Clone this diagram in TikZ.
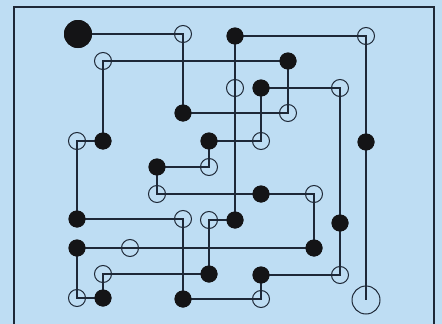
\documentclass[tikz,border=0pt]{standalone}
\definecolor{bgblue}{RGB}{190,221,243}
\definecolor{inkline}{RGB}{30,40,55}
\definecolor{dotblack}{RGB}{20,20,22}
\tikzset{
  fd/.style={circle,fill=dotblack,draw=none,inner sep=0pt,minimum size=17pt},
  od/.style={circle,draw=inkline,line width=1pt,fill=none,inner sep=0pt,minimum size=17pt},
  bigfd/.style={circle,fill=dotblack,draw=none,inner sep=0pt,minimum size=28pt},
  bigod/.style={circle,draw=inkline,line width=1pt,fill=none,inner sep=0pt,minimum size=28pt},
  wire/.style={draw=inkline,line width=1.9pt,line join=miter},
  framel/.style={draw=inkline,line width=1.8pt}
}
\begin{document}
\begin{tikzpicture}[x=1pt,y=-1pt]
\fill[bgblue] (0,0) rectangle (442,324);
\useasboundingbox (0,0) rectangle (442,324);
\coordinate (fbl) at (14,324);
\coordinate (ftl) at (14,7);
\coordinate (ftr) at (434,7);
\coordinate (fbr) at (434,324);
\draw[framel] (fbl) -- (ftl) -- (ftr) -- (fbr);
% nodes
\node[bigfd] (A) at (78,34) {};
\node[od] (B) at (183,34) {};
\node[fd] (C) at (183,113) {};
\node[od] (D) at (288,113) {};
\node[fd] (E) at (288,61) {};
\node[od] (F) at (103,61) {};
\node[fd] (G) at (103,141) {};
\node[od] (H) at (77,141) {};
\node[fd] (I) at (77,219) {};
\node[od] (J) at (183,219) {};
\node[fd] (K) at (183,299) {};
\node[od] (L) at (261,299) {};
\node[fd] (M) at (261,275) {};
\node[od] (N) at (340,275) {};
\node[fd] (O) at (340,223) {};
\node[od] (P) at (340,88) {};
\node[fd] (Q) at (261,88) {};
\node[od] (R) at (261,141) {};
\node[fd] (S) at (209,141) {};
\node[od] (T) at (209,167) {};
\node[fd] (U) at (157,167) {};
\node[od] (V) at (157,194) {};
\node[fd] (W) at (261,194) {};
\node[od] (X) at (314,194) {};
\node[fd] (Y) at (314,248) {};
\node[od] (Z) at (130,248) {};
\node[fd] (AA) at (77,248) {};
\node[od] (AB) at (77,298) {};
\node[fd] (AC) at (103,298) {};
\node[od] (AD) at (103,274) {};
\node[fd] (AE) at (209,274) {};
\node[od] (AF) at (209,220) {};
\node[fd] (AG) at (235,220) {};
\node[od] (AH) at (235,88) {};
\node[fd] (AI) at (235,36) {};
\node[od] (AJ) at (366,36) {};
\node[fd] (AK) at (366,142) {};
\node[bigod] (AL) at (366,300) {};
% wire
\draw[wire] (A.center) -- (B.center) -- (C.center) -- (D.center) -- (E.center) -- (F.center) -- (G.center) -- (H.center) -- (I.center) -- (J.center) -- (K.center) -- (L.center) -- (M.center) -- (N.center) -- (O.center) -- (P.center) -- (Q.center) -- (R.center) -- (S.center) -- (T.center) -- (U.center) -- (V.center) -- (W.center) -- (X.center) -- (Y.center) -- (Z.center) -- (AA.center) -- (AB.center) -- (AC.center) -- (AD.center) -- (AE.center) -- (AF.center) -- (AG.center) -- (AH.center) -- (AI.center) -- (AJ.center) -- (AK.center) -- (AL.center);
% filled dots on top of the wire
\foreach \n in {A} {\fill[dotblack] (\n) circle (14pt);}
\foreach \n in {C,E,G,I,K,M,O,Q,S,U,W,Y,AA,AC,AE,AG,AI,AK} {\fill[dotblack] (\n) circle (8.5pt);}
\end{tikzpicture}
\end{document}
